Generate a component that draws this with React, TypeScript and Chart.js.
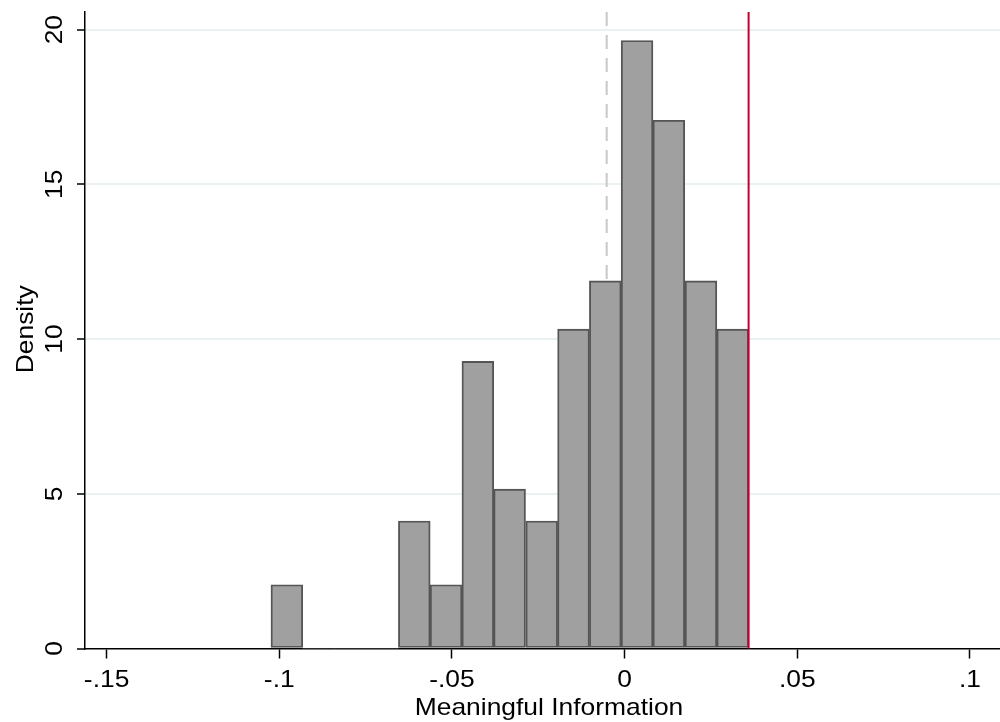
import React, { useEffect, useRef } from 'react';
import { Chart, registerables } from 'chart.js';

Chart.register(...registerables);

// Histogram bins (centres) and densities
const binCenters = [-0.0978, -0.0886, -0.0794, -0.0701, -0.0609, -0.0517, -0.0425, -0.0333, -0.0240, -0.0148, -0.0056, 0.0036, 0.0128, 0.0221, 0.0313];
const densities = [2.06, 0, 0, 0, 4.12, 2.06, 9.28, 5.15, 4.12, 10.32, 11.88, 19.65, 17.07, 11.88, 10.32];

// Reference lines
const dashedLineX = -0.0052;
const redLineX = 0.0359;

// Axes
const xMin = -0.15625;
const xMax = 0.10869;
const yMin = 0;
const yMax = 20.57;
const xTickValues = [-0.15, -0.1, -0.05, 0, 0.05, 0.1];
const xTickLabels = ['-.15', '-.1', '-.05', '0', '.05', '.1'];
const yTickValues = [0, 5, 10, 15, 20];
const yTickLabels = ['0', '5', '10', '15', '20'];
const xTitle = 'Meaningful Information';
const yTitle = 'Density';

const FONT = '24px "Liberation Sans", Arial, Helvetica, sans-serif';
const STRETCH = 1.1;

function drawText(ctx: CanvasRenderingContext2D, text: string, x: number, y: number, rot: number) {
  ctx.save();
  ctx.translate(x, y);
  ctx.rotate(rot);
  ctx.scale(STRETCH, 1);
  ctx.font = FONT;
  ctx.fillStyle = '#000';
  ctx.textAlign = 'center';
  ctx.textBaseline = 'alphabetic';
  ctx.fillText(text, 0, 0);
  ctx.restore();
}

const refLinesPlugin = {
  id: 'refLines',
  beforeDatasetsDraw(chart: any) {
    const { ctx, chartArea, scales } = chart;
    const x = scales.x.getPixelForValue(dashedLineX);
    ctx.save();
    ctx.strokeStyle = '#c8c8c8';
    ctx.lineWidth = 2;
    ctx.setLineDash([14, 9]);
    ctx.beginPath();
    ctx.moveTo(x, chartArea.top);
    ctx.lineTo(x, chartArea.bottom);
    ctx.stroke();
    ctx.restore();
  },
  afterDatasetsDraw(chart: any) {
    const { ctx, chartArea, scales } = chart;
    const x = scales.x.getPixelForValue(redLineX);
    ctx.save();
    ctx.strokeStyle = '#c4002f';
    ctx.lineWidth = 2;
    ctx.beginPath();
    ctx.moveTo(x, chartArea.top);
    ctx.lineTo(x, chartArea.bottom);
    ctx.stroke();
    ctx.restore();
  },
};

const labelsPlugin = {
  id: 'customLabels',
  afterDraw(chart: any) {
    const { ctx, chartArea, scales } = chart;
    xTickValues.forEach((v, i) => {
      drawText(ctx, xTickLabels[i], scales.x.getPixelForValue(v), 686.5, 0);
    });
    yTickValues.forEach((v, i) => {
      drawText(ctx, yTickLabels[i], 61.5, scales.y.getPixelForValue(v), -Math.PI / 2);
    });
    drawText(ctx, xTitle, (chartArea.left + chartArea.right) / 2 + 6.5, 714.5, 0);
    drawText(ctx, yTitle, 33, (chartArea.top + chartArea.bottom) / 2 - 1, -Math.PI / 2);
  },
};

export default function App() {
  const ref = useRef<HTMLCanvasElement | null>(null);

  useEffect(() => {
    if (!ref.current) return;
    const chart = new Chart(ref.current, {
      type: 'bar',
      data: {
        datasets: [
          {
            data: binCenters.map((x, i) => ({ x, y: densities[i] })),
            backgroundColor: '#a0a0a0',
            borderColor: '#555555',
            borderWidth: (c: any) => (c.raw && c.raw.y > 0 ? 1.9 : 0),
            borderSkipped: false,
            barPercentage: 1,
            categoryPercentage: 1,
          } as any,
        ],
      },
      options: {
        animation: false,
        responsive: true,
        maintainAspectRatio: false,
        layout: { padding: { top: 12, right: 0, left: 0, bottom: 0 } },
        plugins: { legend: { display: false }, tooltip: { enabled: false } },
        scales: {
          x: {
            type: 'linear',
            min: xMin,
            max: xMax,
            offset: false,
            afterBuildTicks: (s: any) => {
              s.ticks = xTickValues.map((v) => ({ value: v }));
            },
            afterFit: (s: any) => {
              s.height = 73.5;
              s.paddingLeft = 0;
              s.paddingRight = 0;
            },
            ticks: { display: false },
            grid: {
              offset: false,
              drawOnChartArea: false,
              drawTicks: true,
              tickLength: 10,
              tickColor: '#000',
              tickWidth: 1.5,
            },
            border: { display: true, color: '#000', width: 1.5 },
          },
          y: {
            type: 'linear',
            min: yMin,
            max: yMax,
            afterBuildTicks: (s: any) => {
              s.ticks = yTickValues.map((v) => ({ value: v }));
            },
            afterFit: (s: any) => {
              s.width = 85;
              s.paddingTop = 0;
              s.paddingBottom = 0;
            },
            ticks: { display: false },
            grid: {
              color: (c: any) => (c.tick && c.tick.value === 0 ? 'rgba(0,0,0,0)' : '#e9f1f3'),
              lineWidth: 2,
              drawTicks: true,
              tickLength: 8,
              tickColor: '#000',
              tickWidth: 1.5,
            },
            border: { display: true, color: '#000', width: 1.5 },
          },
        },
      } as any,
      plugins: [refLinesPlugin, labelsPlugin],
    });
    return () => chart.destroy();
  }, []);

  return (
    <div style={{ position: 'fixed', left: 0, top: 0, width: 1000, height: 722, background: '#fff' }}>
      <canvas ref={ref} />
    </div>
  );
}
